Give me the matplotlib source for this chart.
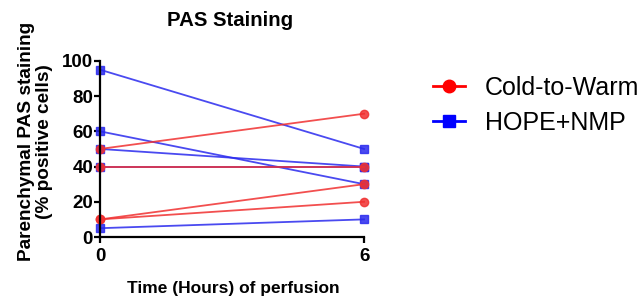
import numpy as np
import matplotlib.pyplot as plt
from matplotlib.lines import Line2D

plt.rcParams['font.family'] = ['Liberation Sans', 'DejaVu Sans']

hours = [0, 6]
# paired values (0 h, 6 h)
cold_warm = [[50, 70], [40, 40], [10, 30], [10, 20]]
hope_nmp = [[95, 50], [60, 30], [50, 40], [40, 40], [5, 10]]

red = '#f03030'
blue = '#2a2aee'

fig = plt.figure(figsize=(6.41, 2.97), dpi=100)
ax = fig.add_axes([0.156, 0.202, 0.412, 0.593])

for pair in hope_nmp:
    ax.plot(hours, pair, color=blue, marker='s', ms=6, lw=1.3, alpha=0.85, clip_on=False)
for pair in cold_warm:
    ax.plot(hours, pair, color=red, marker='o', ms=6, lw=1.3, alpha=0.85, clip_on=False)

ax.set_xlim(0, 6)
ax.set_ylim(0, 100)
ax.set_xticks([0, 6])
ax.set_yticks([0, 20, 40, 60, 80, 100])
ax.spines['top'].set_visible(False)
ax.spines['right'].set_visible(False)
ax.spines['left'].set_linewidth(1.6)
ax.spines['bottom'].set_linewidth(1.6)
ax.tick_params(width=1.6, length=4, labelsize=13.5)
ax.tick_params(axis='y', pad=1)
ax.tick_params(axis='x', pad=4)
for lab in ax.get_xticklabels() + ax.get_yticklabels():
    lab.set_fontweight('bold')

fig.text(230 / 641, 1 - 21 / 297, 'PAS Staining', fontsize=14.7, fontweight='bold',
         ha='center', va='center')
ax.set_ylabel('Parenchymal PAS staining\n(% positive cells)', fontsize=13.7,
              fontweight='bold', linespacing=1.1)
ax.yaxis.set_label_coords(-0.178, 0.54)
fig.text(233 / 641, 1 - 288 / 297, 'Time (Hours) of perfusion', fontsize=12.5,
         fontweight='bold', ha='center', va='center')

handles = [Line2D([0], [0], color='red', marker='o', ms=9, lw=2),
           Line2D([0], [0], color='blue', marker='s', ms=9, lw=2)]
fig.legend(handles, ['Cold-to-Warm', 'HOPE+NMP'], loc='upper left',
           bbox_to_anchor=(433 / 641, 1 - 76 / 297), frameon=False, fontsize=18,
           borderpad=0, borderaxespad=0,
           handlelength=1.28, handletextpad=0.8, labelspacing=0.45)

fig.savefig('out.png', dpi=100)
